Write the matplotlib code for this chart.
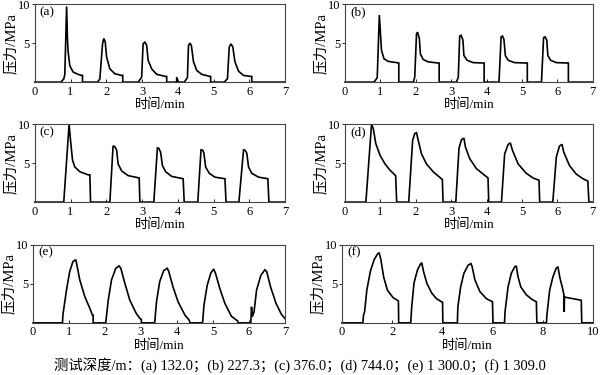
"""
Pressure pulses at six test depths (a)-(f), 3 x 2 panel figure.
"""

import matplotlib

matplotlib.use("Agg")
import matplotlib.pyplot as plt  # noqa: E402

plt.rcParams["font.family"] = ["Liberation Serif", "Noto Sans CJK SC"]

# ---------------------------------------------------------------------------
# Data: time (min) and pressure (MPa) per panel
# ---------------------------------------------------------------------------
T_A = [0, 0.73, 0.81, 0.84, 0.89, 0.915, 0.93, 0.98, 1.07, 1.21, 1.31, 1.335, 1.335,
       1.755, 1.82, 1.895, 1.93, 1.97, 2.01, 2.10, 2.24, 2.43, 2.46, 2.46,
       2.895, 2.99, 3.03, 3.08, 3.13, 3.17, 3.27, 3.41, 3.66, 3.69, 3.69,
       3.97, 3.97, 3.98,
       4.18, 4.27, 4.30, 4.34, 4.38, 4.44, 4.53, 4.67, 4.90, 4.92, 4.92,
       5.30, 5.39, 5.44, 5.49, 5.54, 5.60, 5.70, 5.84, 6.04, 6.07, 6.07, 7]
P_A = [0, 0, 0.4, 1.0, 9.7, 5.4, 4.0, 2.1, 1.3, 1.0, 0.86, 0.86, 0,
       0, 0.4, 4.9, 5.6, 5.15, 3.2, 1.7, 1.07, 0.86, 0.86, 0,
       0, 0.64, 4.9, 5.15, 4.7, 2.8, 1.7, 1.0, 0.73, 0.73, 0,
       0, 0.6, 0,
       0, 0.56, 4.7, 5.0, 4.7, 2.6, 1.5, 1.0, 0.73, 0.73, 0,
       0, 0.43, 4.5, 4.9, 4.5, 2.6, 1.4, 0.86, 0.73, 0.73, 0, 0]

T_B = [0, 0.82, 0.91, 0.97, 1.03, 1.10, 1.22, 1.46, 1.52, 1.52,
       1.93, 1.97, 2.02, 2.05, 2.10, 2.13, 2.21, 2.35, 2.63, 2.66, 2.66,
       3.15, 3.20, 3.24, 3.28, 3.33, 3.36, 3.45, 3.62, 3.90, 3.93, 3.93,
       4.35, 4.41, 4.45, 4.49, 4.53, 4.61, 4.79, 5.12, 5.15, 5.15,
       5.55, 5.61, 5.65, 5.70, 5.73, 5.81, 5.97, 6.28, 6.31, 6.31, 7]
P_B = [0, 0, 0.56, 8.6, 4.1, 3.0, 2.66, 2.5, 2.45, 0,
       0, 0.64, 6.2, 6.4, 5.6, 3.6, 2.9, 2.6, 2.45, 2.45, 0,
       0, 0.64, 5.9, 6.0, 5.4, 3.4, 2.8, 2.5, 2.45, 2.45, 0,
       0, 5.8, 5.9, 5.45, 3.4, 2.8, 2.5, 2.45, 2.45, 0,
       0, 5.7, 5.8, 5.4, 3.4, 2.8, 2.5, 2.45, 2.45, 0, 0]

T_C = [0, 0.81, 0.96, 1.0, 1.055, 1.12, 1.26, 1.49, 1.54, 1.56,
       2.10, 2.19, 2.24, 2.29, 2.33, 2.43, 2.61, 2.92, 2.94,
       3.33, 3.43, 3.47, 3.52, 3.57, 3.66, 3.83, 4.15, 4.18,
       4.56, 4.65, 4.70, 4.73, 4.78, 4.88, 5.04, 5.32, 5.35,
       5.71, 5.84, 5.88, 5.93, 5.98, 6.07, 6.26, 6.52, 6.55, 7]
P_C = [0, 0, 10.0, 7.9, 5.4, 4.5, 3.9, 3.5, 3.5, 0,
       0, 7.2, 7.1, 6.65, 4.9, 4.0, 3.4, 3.1, 0,
       0, 6.95, 6.9, 6.4, 4.7, 3.9, 3.3, 3.0, 0,
       0, 6.7, 6.65, 6.3, 4.5, 3.7, 3.2, 3.0, 0,
       0, 6.7, 6.65, 6.3, 4.5, 3.7, 3.2, 3.0, 0, 0]

T_D = [0, 0.59, 0.75, 0.80, 0.87, 0.99, 1.13, 1.27, 1.43, 1.46,
       1.80, 1.91, 1.97, 2.02, 2.07, 2.16, 2.30, 2.49, 2.75, 2.77,
       3.13, 3.22, 3.29, 3.36, 3.40, 3.52, 3.71, 3.90, 4.04, 4.06,
       4.42, 4.51, 4.61, 4.67, 4.73, 4.89, 5.12, 5.31, 5.48, 5.50,
       5.87, 5.97, 6.06, 6.13, 6.18, 6.34, 6.53, 6.72, 6.86, 6.89, 7]
P_D = [0, 0, 10.0, 9.4, 7.5, 6.0, 4.9, 4.1, 3.4, 0,
       0, 7.9, 8.8, 8.9, 7.9, 6.2, 4.9, 3.9, 2.9, 0,
       0, 6.9, 8.0, 8.2, 7.1, 5.6, 4.3, 3.6, 3.1, 0,
       0, 6.2, 7.4, 7.6, 6.65, 4.9, 3.7, 3.1, 2.8, 0,
       0, 5.8, 7.2, 7.4, 6.4, 4.7, 3.6, 3.0, 2.7, 0, 0]

T_E = [0, 0.82, 0.83, 0.93, 1.02, 1.11, 1.19, 1.22, 1.30, 1.44, 1.58, 1.65, 1.67, 1.67,
       2.02, 2.09, 2.18, 2.30, 2.39, 2.44, 2.55, 2.69, 2.87, 2.97, 3.01, 3.01,
       3.38, 3.43, 3.52, 3.63, 3.73, 3.77, 3.89, 4.03, 4.22, 4.34, 4.36,
       4.71, 4.75, 4.84, 4.94, 5.02, 5.07, 5.19, 5.33, 5.51, 5.68, 5.70,
       6.05, 6.07, 6.09, 6.14, 6.21, 6.33, 6.44, 6.49, 6.60, 6.75, 6.90, 7.0]
P_E = [0, 0, 1.0, 4.2, 6.6, 7.85, 8.1, 7.4, 5.5, 3.35, 1.85, 1.0, 1.0, 0,
       0, 2.9, 5.5, 7.0, 7.3, 7.0, 5.1, 2.9, 1.2, 0.56, 0.45, 0,
       0, 2.7, 5.3, 6.7, 7.0, 6.6, 4.6, 2.7, 1.0, 0.34, 0,
       0, 2.3, 4.85, 6.4, 6.9, 6.35, 4.4, 2.5, 0.86, 0.26, 0,
       0, 2.06, 0.77, 1.4, 4.2, 6.1, 6.8, 6.6, 4.6, 2.5, 1.1, 0.56]

T_F = [0, 0.83, 0.86, 0.90, 0.99, 1.13, 1.28, 1.42, 1.48, 1.55, 1.66, 1.81, 2.03, 2.21, 2.25, 2.26,
       2.74, 2.78, 2.87, 3.01, 3.14, 3.18, 3.25, 3.38, 3.58, 3.77, 3.97, 4.01, 4.02,
       4.60, 4.62, 4.73, 4.86, 5.03, 5.14, 5.19, 5.30, 5.50, 5.76, 6.00, 6.02,
       6.48, 6.50, 6.62, 6.75, 6.89, 6.95, 7.02, 7.13, 7.35, 7.58, 7.75, 7.77,
       8.15, 8.17, 8.28, 8.41, 8.54, 8.61, 8.68, 8.78, 8.85, 8.86, 8.87, 8.94, 9.21, 9.54, 9.56,
       10]
P_F = [0, 0, 1.0, 1.4, 4.2, 6.6, 8.1, 8.85, 9.0, 8.1, 5.9, 4.2, 3.26, 2.9, 2.8, 0,
       0, 2.06, 5.1, 6.8, 7.6, 7.7, 6.6, 5.1, 3.8, 3.1, 2.7, 2.65, 0,
       0, 2.06, 4.6, 6.35, 7.4, 7.6, 7.2, 5.5, 4.0, 3.1, 2.7, 0,
       0, 1.4, 4.6, 6.35, 7.2, 7.3, 5.9, 4.6, 3.6, 3.0, 2.7, 0,
       0, 1.0, 4.2, 5.9, 7.0, 7.2, 5.9, 4.6, 3.6, 1.4, 3.35, 3.26, 3.1, 2.9, 0,
       0]

LABELS = ["(a)", "(b)", "(c)", "(d)", "(e)", "(f)"]
X_MAX = [7, 7, 7, 7, 7, 10]
X_TICKS = [range(0, 8), range(0, 8), range(0, 8), range(0, 8), range(0, 8), range(0, 11, 2)]
Y_TICKS = [5, 10]
CAPTION = ("测试深度/m：(a) 132.0；(b) 227.3；(c) 376.0；(d) 744.0；"
           "(e) 1 300.0；(f) 1 309.0")

SERIES = [(T_A, P_A), (T_B, P_B), (T_C, P_C), (T_D, P_D), (T_E, P_E), (T_F, P_F)]

# axes boxes in figure fractions [left, bottom, width, height]
BOXES = [
    [0.058, 0.781, 0.417, 0.208], [0.575, 0.781, 0.413, 0.208],
    [0.058, 0.461, 0.417, 0.208], [0.575, 0.461, 0.413, 0.208],
    [0.055, 0.139, 0.420, 0.208], [0.570, 0.139, 0.418, 0.208],
]

fig = plt.figure(figsize=(6.0, 3.75), dpi=100)

for (t, p), box, label, xmax, xticks in zip(SERIES, BOXES, LABELS, X_MAX, X_TICKS):
    ax = fig.add_axes(box)
    ax.plot(t, p, color="black", lw=1.2, clip_on=False, solid_joinstyle="miter")
    ax.set_xlim(0, xmax)
    ax.set_ylim(0, 10)
    ax.set_xticks(list(xticks))
    ax.set_yticks(Y_TICKS)
    ax.tick_params(axis="x", direction="in", length=2, width=0.6, labelsize=9, pad=2.5)
    ax.tick_params(axis="y", direction="out", length=2, width=0.6, labelsize=9, pad=1.5)
    for sp in ax.spines.values():
        sp.set_linewidth(0.8)
        sp.set_color("#444444")
    ax.set_xlabel("时间/min", fontsize=9.5, labelpad=0.5)
    ax.set_ylabel("压力/MPa", fontsize=10.5, labelpad=0)
    ax.text(0.02, 0.9, label, transform=ax.transAxes, fontsize=9.5, va="center", ha="left")

fig.text(0.5, 0.027, CAPTION, ha="center", va="center", fontsize=10.4)

fig.savefig("out.png", dpi=100)
plt.close(fig)
